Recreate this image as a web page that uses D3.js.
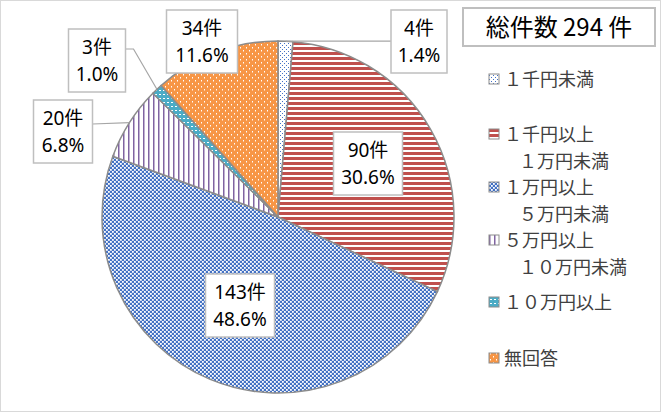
<!DOCTYPE html>
<html>
<head>
<meta charset="utf-8">
<script src="https://cdn.jsdelivr.net/npm/d3@7"></script>
<style>
  body { margin: 0; background: white; }
  svg { display: block; }
</style>
</head>
<body>
<div id="chart"></div>
<script>
// categories and values (clockwise from 12 o'clock)
var categories = ["1千円未満", "1千円以上1万円未満", "1万円以上5万円未満", "5万円以上10万円未満", "10万円以上", "無回答"];
var counts = [4, 90, 143, 20, 3, 34];
var percents = ["1.4%", "30.6%", "48.6%", "6.8%", "1.0%", "11.6%"];
var legendLines = [
  ["１千円未満"],
  ["１千円以上", "１万円未満"],
  ["１万円以上", "５万円未満"],
  ["５万円以上", "１０万円未満"],
  ["１０万円以上"],
  ["無回答"]
];
var totalLabel = "総件数 294 件";

const W = 661, H = 412;
const cx = 278, cy = 217, R = 176;
var jpFont = "'Noto Sans CJK JP', 'Noto Sans', sans-serif";
var numFont = "'Noto Sans', 'Noto Sans CJK JP', sans-serif";

const svg = d3.select("#chart").append("svg")
  .attr("width", W).attr("height", H);

// outer chart border
svg.append("rect")
  .attr("x", 0.5).attr("y", 0.5)
  .attr("width", W - 1).attr("height", H - 1)
  .attr("fill", "white").attr("stroke", "#d9d9d9");

// fill patterns
const defs = svg.append("defs");
function pattern(id, w, h) {
  return defs.append("pattern").attr("id", id)
    .attr("patternUnits", "userSpaceOnUse")
    .attr("width", w).attr("height", h);
}
// small blue dots on white
var p0 = pattern("p0", 4, 4);
p0.append("rect").attr("width", 4).attr("height", 4).attr("fill", "white");
p0.append("rect").attr("x", 0).attr("y", 0).attr("width", 1).attr("height", 1).attr("fill", "#4472c4");
p0.append("rect").attr("x", 2).attr("y", 2).attr("width", 1).attr("height", 1).attr("fill", "#4472c4");
// red horizontal stripes
var p1 = pattern("p1", 5, 5);
p1.append("rect").attr("width", 5).attr("height", 5).attr("fill", "white");
p1.append("rect").attr("width", 5).attr("height", 3).attr("fill", "#c0504d");
// blue checker
var p2 = pattern("p2", 4, 4);
p2.append("rect").attr("width", 4).attr("height", 4).attr("fill", "#4472c4");
p2.append("rect").attr("x", 0).attr("y", 0).attr("width", 1.8).attr("height", 1.8).attr("fill", "white");
p2.append("rect").attr("x", 2).attr("y", 2).attr("width", 1.8).attr("height", 1.8).attr("fill", "white");
// purple vertical stripes
var p3 = pattern("p3", 5, 5);
p3.append("rect").attr("width", 5).attr("height", 5).attr("fill", "white");
p3.append("rect").attr("width", 1.5).attr("height", 5).attr("fill", "#8064a2");
// teal with white checks
var p4 = pattern("p4", 4, 4);
p4.append("rect").attr("width", 4).attr("height", 4).attr("fill", "#4bacc6");
p4.append("rect").attr("x", 1).attr("y", 1).attr("width", 2).attr("height", 1).attr("fill", "white");
// orange with white dots
var p5 = pattern("p5", 6, 6);
p5.append("rect").attr("width", 6).attr("height", 6).attr("fill", "#f79646");
p5.append("rect").attr("x", 1).attr("y", 1).attr("width", 1).attr("height", 1.5).attr("fill", "white");
p5.append("rect").attr("x", 4).attr("y", 4).attr("width", 1).attr("height", 1.5).attr("fill", "white");
var fills = ["url(#p0)", "url(#p1)", "url(#p2)", "url(#p3)", "url(#p4)", "url(#p5)"];

// pie
const pie = d3.pie().sort(null).value(function (d) { return d; });
const arcs = pie(counts);
const arc = d3.arc().innerRadius(0).outerRadius(R);

const g = svg.append("g").attr("transform", `translate(${cx},${cy})`);
g.selectAll("path")
  .data(arcs)
  .enter()
  .append("path")
  .attr("d", arc)
  .attr("fill", function (d, i) { return fills[i]; })
  .attr("stroke", "#8c8c8c")
  .attr("stroke-width", 1.5);

// label boxes (center of box)
var labelPos = [[419, 41], [368, 163], [240, 305], [63, 131], [97, 60], [202, 41]];
var boxW = [56, 69, 69, 59, 57, 71];

// leader lines
var leaderLine = d3.line();
function leaderFor(i) {
  var a = arcs[i];
  var mid = (a.startAngle + a.endAngle) / 2;
  var px = cx + Math.sin(mid) * R, py = cy - Math.cos(mid) * R;
  var bx = labelPos[i][0], by = labelPos[i][1];
  if (i === 0) return [[px, py], [bx - boxW[i] / 2, py]];
  if (i === 3) return [[bx + boxW[i] / 2, by - 7], [px, py]];
  if (i === 4) return [[bx + boxW[i] / 2, by - 11], [bx + boxW[i] / 2 + 8, by - 11], [px, py]];
  return null;
}
[0, 3, 4].forEach(function (i) {
  svg.append("path")
    .attr("d", leaderLine(leaderFor(i)))
    .attr("fill", "none")
    .attr("stroke", "#a6a6a6")
    .attr("stroke-width", 1.2);
});

const labels = svg.selectAll("g.lbl")
  .data(arcs)
  .enter()
  .append("g")
  .attr("class", "lbl")
  .attr("transform", function (d, i) { return `translate(${labelPos[i][0]},${labelPos[i][1]})`; });
labels.append("rect")
  .attr("x", function (d, i) { return -boxW[i] / 2; })
  .attr("y", -31)
  .attr("width", function (d, i) { return boxW[i]; })
  .attr("height", 63)
  .attr("fill", "white")
  .attr("stroke", "#bfbfbf")
  .attr("stroke-width", 1.5);
labels.append("text")
  .attr("text-anchor", "middle")
  .attr("y", -6)
  .style("font-family", numFont)
  .style("font-size", "19px")
  .attr("fill", "#000")
  .text(function (d, i) { return counts[i] + "件"; });
labels.append("text")
  .attr("text-anchor", "middle")
  .attr("y", 21)
  .style("font-family", numFont)
  .style("font-size", "19px")
  .attr("fill", "#000")
  .text(function (d, i) { return percents[i]; });

// total box
svg.append("rect")
  .attr("x", 463).attr("y", 8)
  .attr("width", 192).attr("height", 38)
  .attr("fill", "white")
  .attr("stroke", "#bfbfbf")
  .attr("stroke-width", 2);
svg.append("text")
  .attr("x", 559).attr("y", 36)
  .attr("text-anchor", "middle")
  .style("font-family", jpFont)
  .style("font-size", "24px")
  .attr("fill", "#000")
  .text(totalLabel);

// legend
var legendY = [79, 134, 187, 240, 302, 358];
const legend = svg.selectAll("g.leg")
  .data(categories)
  .enter()
  .append("g")
  .attr("class", "leg")
  .attr("transform", function (d, i) { return `translate(489,${legendY[i]})`; });
legend.append("rect")
  .attr("x", 0).attr("y", -5)
  .attr("width", 10).attr("height", 10)
  .attr("fill", function (d, i) { return fills[i]; })
  .attr("stroke", "#8c8c8c");
legend.each(function (d, i) {
  var sel = d3.select(this);
  legendLines[i].forEach(function (line, j) {
    sel.append("text")
      .attr("x", j === 0 ? 15 : 30)
      .attr("y", 7 + j * 27)
      .style("font-family", jpFont)
      .style("font-size", "18px")
      .attr("fill", "#404040")
      .text(line);
  });
});
</script>
</body>
</html>
